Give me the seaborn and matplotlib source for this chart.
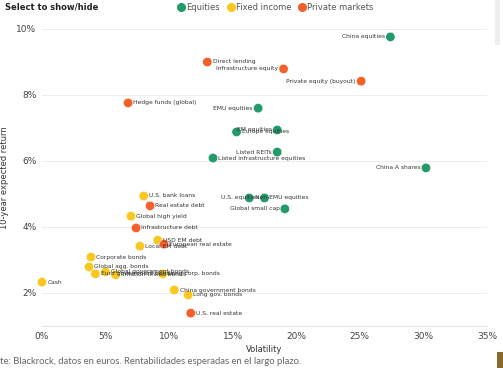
import matplotlib
matplotlib.use("Agg")
import matplotlib.pyplot as plt
from matplotlib.lines import Line2D
from matplotlib.patches import Rectangle
import seaborn as sns
import pandas as pd

names = [
    "China equities", "EMU equities", "EM equities", "Europe equities", "Listed REITs",
    "Listed infrastructure equities", "China A shares", "Non-EMU equities", "U.S. equities",
    "Global small cap",
    "U.S. bank loans", "Global high yield", "USD EM debt", "Local EM debt", "Corporate bonds",
    "Global agg. bonds", "Euro government bonds", "Global government bonds",
    "Inflation-linked bonds", "Long corp. bonds", "Cash", "China government bonds",
    "Long gov. bonds",
    "Direct lending", "Infrastructure equity", "Private equity (buyout)", "Hedge funds (global)",
    "Real estate debt", "Infrastructure debt", "European real estate", "U.S. real estate",
]
volatility = [
    27.4, 17.0, 18.5, 15.3, 18.5, 13.45, 30.2, 16.3, 17.5, 19.1,
    8.0, 7.0, 9.1, 7.7, 3.85, 3.7, 4.2, 5.0, 5.8, 9.5, 0.0, 10.4, 11.5,
    13.0, 19.0, 25.1, 6.77, 8.5, 7.4, 9.6, 11.7,
]
expected_return = [
    9.76, 7.60, 6.94, 6.88, 6.27, 6.09, 5.79, 4.88, 4.88, 4.55,
    4.94, 4.33, 3.60, 3.42, 3.09, 2.79, 2.58, 2.64, 2.55, 2.58, 2.33, 2.09, 1.94,
    9.00, 8.79, 8.42, 7.76, 4.64, 3.97, 3.48, 1.39,
]
groups = ["Equities"] * 10 + ["Fixed income"] * 13 + ["Private markets"] * 8
label_side = [
    "L", "L", "L", "R", "L", "R", "L", "R", "L", "L",
    "R", "R", "R", "R", "R", "R", "R", "R", "R", "R", "R", "R", "R",
    "R", "L", "L", "R", "R", "R", "R", "R",
]
categories = ["Equities", "Fixed income", "Private markets"]
colors = ["#229a6a", "#f9c81e", "#f4602a"]
yticks = [2, 4, 6, 8, 10]
xticks = [0, 5, 10, 15, 20, 25, 30, 35]

df = pd.DataFrame({"name": names, "vol": volatility, "ret": expected_return,
                   "group": groups, "side": label_side})

sns.set_style("white")
plt.rcParams["font.family"] = ["DejaVu Sans"]

fig = plt.figure(figsize=(5.03, 3.68), dpi=100)
ax = fig.add_axes([42 / 503, 1 - 326 / 368, 445 / 503, 297 / 368])

palette = dict(zip(categories, colors))
sns.scatterplot(data=df, x="vol", y="ret", hue="group", palette=palette, s=46,
                edgecolor="white", linewidth=0.4, legend=False, ax=ax, clip_on=False, zorder=3)

for _, r in df.iterrows():
    if r["side"] == "R":
        ax.annotate(r["name"], (r["vol"], r["ret"]), xytext=(3.8, 0), textcoords="offset points",
                    ha="left", va="center", fontsize=4.3, color="#333333", zorder=4)
    else:
        ax.annotate(r["name"], (r["vol"], r["ret"]), xytext=(-3.8, 0), textcoords="offset points",
                    ha="right", va="center", fontsize=4.3, color="#333333", zorder=4)

ax.set_xlim(0, 35)
ax.set_ylim(1, 10)
ax.set_xticks(xticks)
ax.set_xticklabels([f"{t}%" for t in xticks])
ax.set_yticks(yticks)
ax.set_yticklabels([f"{t}%" for t in yticks])
ax.tick_params(axis="both", length=0, labelsize=6.5, colors="#444444")
ax.tick_params(axis="x", pad=4)
ax.tick_params(axis="y", pad=4)
for s in ["top", "right", "left"]:
    ax.spines[s].set_visible(False)
ax.spines["bottom"].set_color("#e6e6e6")
ax.spines["bottom"].set_linewidth(0.8)
ax.grid(axis="y", color="#ececec", linewidth=0.7)
ax.set_axisbelow(True)
ax.set_xlabel("Volatility", fontsize=6, color="#333333", labelpad=3)
ax.set_ylabel("10-year expected return", fontsize=6, color="#333333", labelpad=5)

# legend header
fig.text(5 / 503, 1 - 7 / 368, "Select to show/hide", fontsize=6, fontweight="bold",
         color="#222222", va="center", ha="left")
handles = [Line2D([0], [0], marker="o", linestyle="", markersize=5.5, markerfacecolor=c,
                  markeredgecolor=c) for c in colors]
fig.legend(handles, categories, loc="center left", bbox_to_anchor=(177 / 503, 1 - 7 / 368),
           ncol=3, frameon=False, fontsize=6, handletextpad=0.1, columnspacing=0.8,
           handlelength=1.0, borderpad=0, borderaxespad=0, labelcolor="#555555")

fig.text(0, 1 - 361 / 368, "te: Blackrock, datos en euros. Rentabilidades esperadas en el largo plazo.",
         fontsize=6.8, color="#666666", ha="left", va="center", family=["Lato", "DejaVu Sans"])

fig.patches.append(Rectangle((497 / 503, 0), 6 / 503, 16 / 368, transform=fig.transFigure,
                             facecolor="#8a6a2e", edgecolor="none"))
fig.patches.append(Rectangle((495 / 503, 1 - 45 / 368), 5 / 503, 45 / 368, transform=fig.transFigure,
                             facecolor="#eeeeee", edgecolor="none"))

fig.savefig("out.png", dpi=100)
